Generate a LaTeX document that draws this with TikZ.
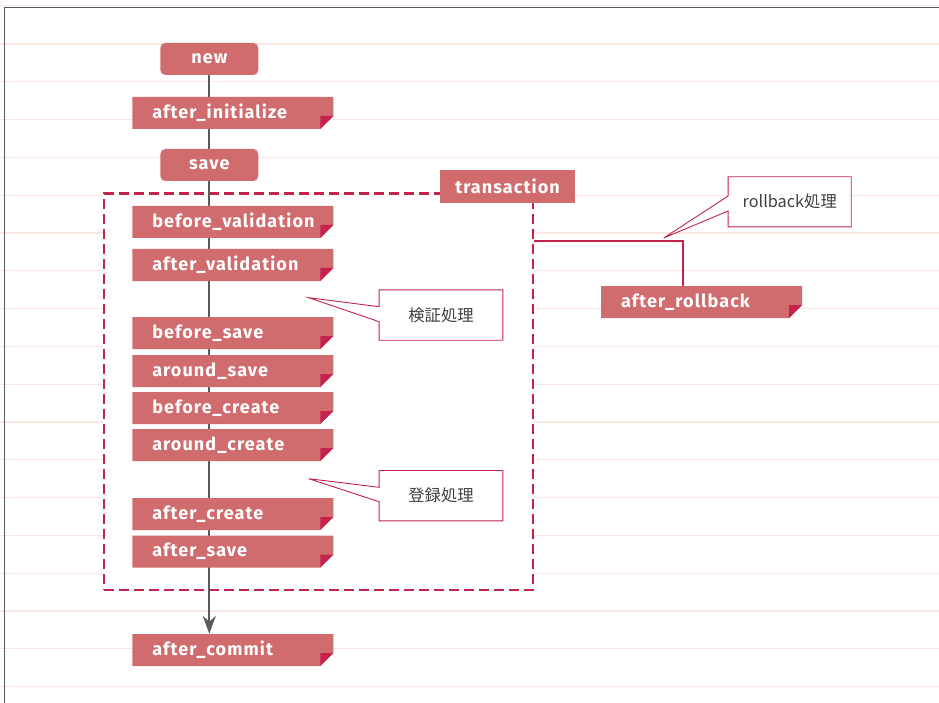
\documentclass[tikz,border=0pt]{standalone}
\usepackage{fontspec}
\setmainfont{Fira Sans}
\newfontfamily\hkfam{Fira Sans}[LetterSpace=6]
\newfontfamily\jpfont{Noto Sans CJK JP}
\usetikzlibrary{arrows.meta}
\definecolor{nodefill}{RGB}{208,107,110}
\definecolor{crim}{RGB}{196,35,75}
\definecolor{bgpink}{RGB}{250,230,226}
\definecolor{flowgray}{RGB}{90,90,90}
\definecolor{txtgray}{RGB}{64,64,64}
\pgfdeclarelayer{back}
\pgfdeclarelayer{mid}
\pgfsetlayers{back,mid,main}
\newcommand{\hkfont}{\hkfam\bfseries\fontsize{18}{21}\selectfont}
\tikzset{
  hook/.style={minimum width=201pt, minimum height=32pt, inner sep=0pt,
    text width=161pt, align=left, text=white, font=\hkfont,
    path picture={
      \fill[nodefill] (path picture bounding box.north west) -- (path picture bounding box.north east)
        -- ([yshift=13pt]path picture bounding box.south east) -- ([xshift=-13pt]path picture bounding box.south east)
        -- (path picture bounding box.south west) -- cycle;
      \fill[crim] ([yshift=13pt]path picture bounding box.south east) -- ([shift={(-13pt,13pt)}]path picture bounding box.south east)
        -- ([xshift=-13pt]path picture bounding box.south east) -- cycle;
    }},
  rbox/.style={fill=nodefill, rounded corners=5pt, minimum width=98pt, minimum height=32pt, inner sep=0pt, text=white, font=\hkfont},
  tlabel/.style={fill=nodefill, minimum width=135pt, minimum height=33pt, inner sep=0pt, text=white, font=\hkfont},
  txframe/.style={draw=crim, line width=2.2pt, dash pattern=on 10pt off 5pt, minimum width=429pt, minimum height=396.5pt, inner sep=0pt},
  cbox/.style={inner sep=0pt, text=txtgray, font=\jpfont\fontsize{16.3}{19}\selectfont},
  cline/.style={draw=crim, line width=0.9pt, fill=white, line join=miter},
  flow/.style={draw=flowgray, line width=1.8pt, -{Stealth[length=18pt,width=13pt,inset=6pt]}},
  rbline/.style={draw=crim, line width=2pt},
  bgline/.style={draw=bgpink, line width=1.2pt},
  frameline/.style={draw=flowgray, line width=1.2pt}
}
\begin{document}
\begin{tikzpicture}[x=1pt, y=-1pt]
\useasboundingbox (0,0) rectangle (939,703);
\begin{pgfonlayer}{back}
  \fill[white] (0,0) rectangle (939,703);
  \foreach \k in {0,...,17} { \draw[bgline] (0,{44+37.8*\k}) -- (939,{44+37.8*\k}); }
  \draw[bgline] (0,5.5) -- (939,5.5);
  \draw[frameline] (4.3,7.3) -- (939,7.3);
  \draw[frameline] (4.3,7.3) -- (4.3,703);
\end{pgfonlayer}

% transaction frame
\node[txframe] (txbox) at (318.5,391.75) {};
\node[tlabel] (tx) at (507.5,186.5) {transaction};

% flow nodes
\node[rbox] (new) at (209.3,59) {new};
\node[hook] (afterinit) at (232.75,113) {after\_initialize};
\node[rbox] (save) at (209.3,165) {save};
\node[hook] (beforeval) at (232.75,222) {before\_validation};
\node[hook] (afterval) at (232.75,265) {after\_validation};
\node[hook] (beforesave) at (232.75,333) {before\_save};
\node[hook] (aroundsave) at (232.75,371) {around\_save};
\node[hook] (beforecreate) at (232.75,408) {before\_create};
\node[hook] (aroundcreate) at (232.75,445) {around\_create};
\node[hook] (aftercreate) at (232.75,514) {after\_create};
\node[hook] (aftersave) at (232.75,551.5) {after\_save};
\node[hook] (aftercommit) at (232.75,650) {after\_commit};
\node[hook] (afterrollback) at (701.5,302) {after\_rollback};

% callout texts
\node[cbox, minimum width=123.4pt, minimum height=50pt] (c1) at (441,315) {検証処理};
\node[cbox, minimum width=123.4pt, minimum height=50pt] (c2) at (441,495.7) {登録処理};
\node[cbox, minimum width=122.7pt, minimum height=49.7pt] (c3) at (789.7,201.8) {rollback処理};

\coordinate (t1) at (308.7,297.7);
\coordinate (t1a) at (379.3,306.7);
\coordinate (t1b) at (379.3,321.7);
\coordinate (t2) at (308.7,478.7);
\coordinate (t2a) at (379.3,487.3);
\coordinate (t2b) at (379.3,501.7);
\coordinate (t3) at (663.7,238);
\coordinate (t3a) at (728.3,196);
\coordinate (t3b) at (728.3,211);

\begin{pgfonlayer}{back}
  \fill[white] (txbox.north west) rectangle (txbox.south east);
  \path[cline] (t1) -- (c1.west |- t1a) -- (c1.north west) -- (c1.north east) -- (c1.south east) -- (c1.south west) -- (c1.west |- t1b) -- cycle;
  \path[cline] (t2) -- (c2.west |- t2a) -- (c2.north west) -- (c2.north east) -- (c2.south east) -- (c2.south west) -- (c2.west |- t2b) -- cycle;
  \path[cline] (t3) -- (c3.west |- t3a) -- (c3.north west) -- (c3.north east) -- (c3.south east) -- (c3.south west) -- (c3.west |- t3b) -- cycle;
\end{pgfonlayer}

\begin{pgfonlayer}{mid}
  \draw[flow] (new.south) -- (new.south |- aftercommit.north);
\end{pgfonlayer}

% rollback connector
\coordinate (rbturn) at (683.3,241);
\draw[rbline] (txbox.east |- rbturn) -- (rbturn) -- (rbturn |- afterrollback.north);
\end{tikzpicture}
\end{document}
